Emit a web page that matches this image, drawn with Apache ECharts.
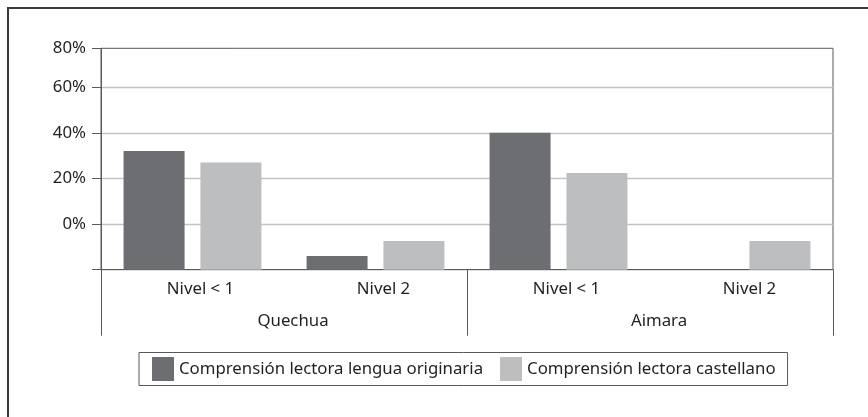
<!DOCTYPE html>
<html>
<head>
<meta charset="utf-8">
<script src="https://cdn.jsdelivr.net/npm/echarts@6/dist/echarts.min.js"></script>
<style>
  html, body { margin: 0; padding: 0; background: #fff; }
  #chart { width: 868px; height: 417px; }
</style>
</head>
<body>
<div id="chart"></div>
<script>
// data (axis units, bottom of the plot = 0)
var niveles = ['Nivel < 1', 'Nivel 2', 'Nivel < 1', 'Nivel 2']
var lenguas = ['Quechua', 'Aimara']
var lenguaOriginaria = [52, 6, 60, 0]
var castellano = [47, 12.6, 42.4, 12.6]
// the labels printed on the value axis, one per tick from the bottom up
var yTickLabels = ['', '0%', '20%', '40%', '60%', '80%']

var dark = '#6d6e71'
var light = '#bcbec0'
var lineColor = '#58595b'
var textColor = '#231f20'
var font = 'Noto Sans'
var fontSize = 16.8

var chart = echarts.init(document.getElementById('chart'))
var option = {
  animation: false,
  textStyle: { fontFamily: font },
  graphic: [
    {
      type: 'polyline',
      shape: { points: [[8, 417], [8, 8], [868, 8]] },
      style: { stroke: '#3a3a3a', lineWidth: 2, fill: null }
    }
  ],
  grid: {
    left: 101,
    right: 35,
    top: 48.3,
    bottom: 147.3,
    show: true,
    borderColor: lineColor,
    borderWidth: 1,
    outerBoundsMode: 'none'
  },
  legend: {
    left: 139,
    top: 352.5,
    icon: 'rect',
    itemWidth: 22,
    itemHeight: 24,
    itemGap: 17,
    padding: [4.5, 12, 4.5, 13],
    borderColor: lineColor,
    borderWidth: 1,
    textStyle: { fontFamily: font, fontSize: fontSize, color: textColor }
  },
  xAxis: [
    {
      type: 'category',
      data: niveles,
      axisLine: { lineStyle: { color: lineColor, width: 1 } },
      axisTick: { show: false },
      axisLabel: { margin: 11, fontSize: fontSize, color: textColor, fontFamily: font, padding: [0, 0, 0, 16] }
    },
    {
      type: 'category',
      data: lenguas,
      position: 'bottom',
      axisLine: { show: false },
      axisTick: { show: true, length: 66, lineStyle: { color: lineColor, width: 1 } },
      axisLabel: { margin: 43, fontSize: fontSize, color: textColor, fontFamily: font, padding: [0, 0, 0, 18] },
      splitLine: { show: false }
    }
  ],
  yAxis: {
    type: 'value',
    min: 0,
    max: 97,
    interval: 20,
    axisLine: { show: true, lineStyle: { color: lineColor, width: 1 } },
    axisTick: { show: true, length: 9, lineStyle: { color: lineColor, width: 1 } },
    axisLabel: {
      margin: 15,
      fontSize: fontSize,
      color: textColor,
      fontFamily: font,
      showMaxLabel: true,
      showMinLabel: true,
      formatter: function (value, index) { return yTickLabels[index] || '' }
    },
    splitLine: {
      show: true,
      showMinLine: false,
      showMaxLine: false,
      lineStyle: { color: '#c2c3c5', width: 1.3 }
    }
  },
  series: [
    {
      name: 'Comprensión lectora lengua originaria',
      type: 'bar',
      data: lenguaOriginaria,
      barWidth: 61,
      barGap: '26%',
      itemStyle: { color: dark }
    },
    {
      name: 'Comprensión lectora castellano',
      type: 'bar',
      data: castellano,
      barWidth: 61,
      barGap: '26%',
      itemStyle: { color: light }
    }
  ]
}
chart.setOption(option)
</script>
</body>
</html>
